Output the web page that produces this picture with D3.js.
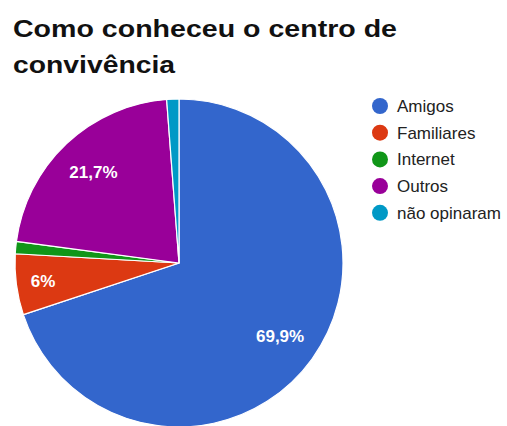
<!DOCTYPE html>
<html>
<head>
<meta charset="utf-8">
<script src="https://cdn.jsdelivr.net/npm/d3@7"></script>
<style>
  body { margin: 0; background: #fff; }
  text { font-family: Arial, "Liberation Sans", sans-serif; }
</style>
</head>
<body>
<div id="chart"></div>
<script>
// data
var categories = ["Amigos", "Familiares", "Internet", "Outros", "não opinaram"];
var values = [69.9, 6, 1.2, 21.7, 1.2];
var labels = ["69,9%", "6%", "", "21,7%", ""];
var colors = ["#3366cc", "#dc3912", "#109618", "#990099", "#0099c6"];
var titleLines = ["Como conheceu o centro de", "convivência"];

var width = 507, height = 426;
var cx = 179, cy = 263, radius = 164;

var svg = d3.select("#chart").append("svg")
    .attr("width", width)
    .attr("height", height);

// title (the original is a bit stretched horizontally)
svg.selectAll(".title")
    .data(titleLines)
  .enter().append("text")
    .attr("class", "title")
    .attr("x", 13)
    .attr("y", function(d, i) { return 37 + i * 36; })
    .attr("textLength", function(d, i) { return i == 0 ? 384 : 162; })
    .attr("lengthAdjust", "spacingAndGlyphs")
    .style("font-size", "24px")
    .style("font-weight", "bold")
    .attr("fill", "#111")
    .text(function(d) { return d; });

var color = d3.scaleOrdinal().domain(categories).range(colors);

var pie = d3.pie().sort(null).value(function(d) { return d.v; });
var data = categories.map(function(c, i) { return { name: c, v: values[i], label: labels[i] }; });

var arc = d3.arc().innerRadius(0).outerRadius(radius);
var labelArc = d3.arc().innerRadius(radius * 0.76).outerRadius(radius * 0.76);

var g = svg.append("g").attr("transform", "translate(" + cx + "," + cy + ")");

var slices = g.selectAll(".slice")
    .data(pie(data))
  .enter().append("g")
    .attr("class", "slice");

slices.append("path")
    .attr("d", arc)
    .attr("fill", function(d) { return color(d.data.name); })
    .attr("stroke", "#fff")
    .attr("stroke-width", 1.2);

slices.append("text")
    .attr("transform", function(d) {
        var c = labelArc.centroid(d);
        // small slices get their label pushed a little further out
        var k = (d.endAngle - d.startAngle) < 0.5 ? 1.1 : 1;
        return "translate(" + c[0] * k + "," + c[1] * k + ")";
    })
    .attr("text-anchor", "middle")
    .attr("dy", "0.35em")
    .attr("fill", "#fff")
    .style("font-size", "17px")
    .style("font-weight", "bold")
    .text(function(d) { return d.data.label; });

// legend
var legend = svg.selectAll(".legend")
    .data(categories)
  .enter().append("g")
    .attr("class", "legend")
    .attr("transform", function(d, i) { return "translate(380," + (106 + i * 26.7) + ")"; });

legend.append("circle")
    .attr("r", 8)
    .attr("fill", color);

legend.append("text")
    .attr("x", 17)
    .attr("dy", "0.35em")
    .attr("fill", "#222")
    .style("font-size", "17px")
    .text(function(d) { return d; });
</script>
</body>
</html>
